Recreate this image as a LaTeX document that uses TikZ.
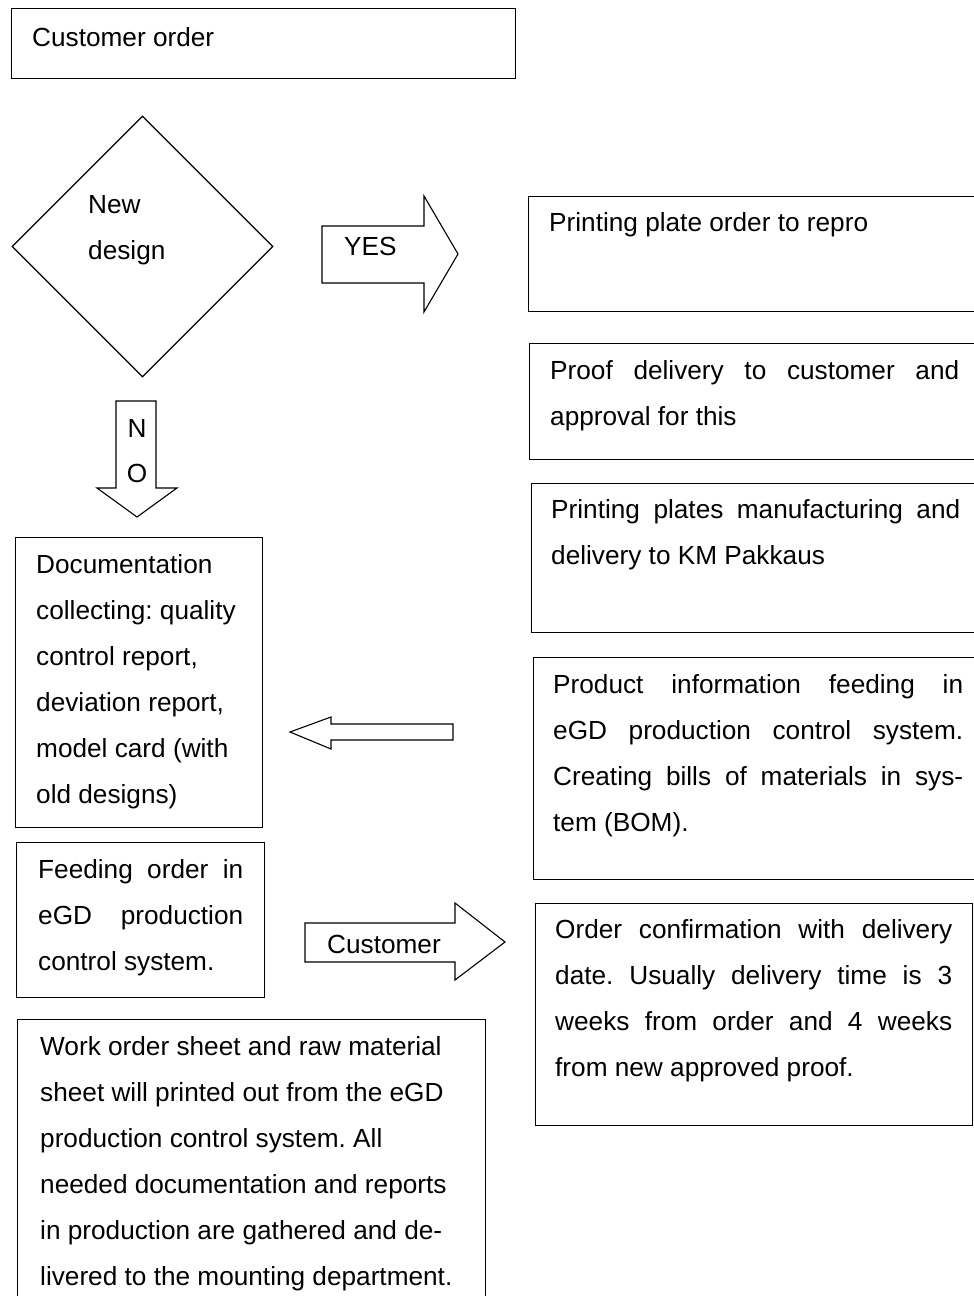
\documentclass[tikz,border=0pt]{standalone}
\usepackage{fontspec}
\setmainfont{Liberation Sans}
\usetikzlibrary{shapes.geometric}
\frenchspacing
\begin{document}
\begin{tikzpicture}[x=1pt,y=-1pt,
  every node/.style={font=\fontsize{26.2}{46}\selectfont},
  boxnode/.style={draw, line width=1.3pt, inner sep=0pt, anchor=north west},
  txt/.style={anchor=base west, inner sep=0pt},
  blockarrow/.style={draw, line width=1.1pt, line join=miter}]
\useasboundingbox (0,0) rectangle (974,1296);
\clip (0,0) rectangle (974,1296);

% left column
\node[boxnode, minimum width=504pt, minimum height=70pt] (order) at (11,8) {};
\node[txt] (ordertxt) at (32,46) {Customer order};

\node[diamond, draw, line width=1.3pt, aspect=1, inner sep=0pt,
      minimum width=261pt, minimum height=261pt] (newdesign) at (142.5,246.5) {};
\node[txt] (newdesigntxt) at (88,213) {\parbox[t]{120pt}{New\\design}};

\node[boxnode, minimum width=247pt, minimum height=290pt] (docs) at (15,537) {};
\node[txt] (docstxt) at (36,573) {\parbox[t]{220pt}{Documentation\\
collecting: quality\\control report,\\deviation report,\\model card (with\\old designs)}};

\node[boxnode, minimum width=248pt, minimum height=155pt] (feed) at (16,842) {};
\node[txt] (feedtxt) at (38,878) {\parbox[t]{206pt}{\makebox[205pt][s]{Feeding order in}\\
\makebox[205pt][s]{eGD production}\\control system.}};

\node[boxnode, minimum width=468pt, minimum height=320pt] (work) at (17,1019) {};
\node[txt] (worktxt) at (40,1055) {\parbox[t]{440pt}{Work order sheet and raw material\\
sheet will printed out from the eGD\\production control system. All\\
needed documentation and reports\\in production are gathered and de-\\
livered to the mounting department.}};

% right column
\node[boxnode, minimum width=480pt, minimum height=115pt] (plateorder) at (528,196) {};
\node[txt] (plateordertxt) at (549,231) {Printing plate order to repro};

\node[boxnode, minimum width=480pt, minimum height=116pt] (proof) at (529,343) {};
\node[txt] (prooftxt) at (550,379) {\parbox[t]{410pt}{\makebox[409pt][s]{Proof delivery to customer and}\\
approval for this}};

\node[boxnode, minimum width=480pt, minimum height=149pt] (plates) at (531,483) {};
\node[txt] (platestxt) at (551,518) {\parbox[t]{410pt}{\makebox[409pt][s]{Printing plates manufacturing and}\\
delivery to KM Pakkaus}};

\node[boxnode, minimum width=480pt, minimum height=222pt] (product) at (533,657) {};
\node[txt] (producttxt) at (553,693) {\parbox[t]{411pt}{\makebox[410pt][s]{Product information feeding in}\\
\makebox[410pt][s]{eGD production control system.}\\
\makebox[410pt][s]{Creating bills of materials in sys-}\\tem (BOM).}};

\node[boxnode, minimum width=437pt, minimum height=222pt] (confirm) at (535,903) {};
\node[txt] (confirmtxt) at (555,938) {\parbox[t]{398pt}{\makebox[397pt][s]{Order confirmation with delivery}\\
\makebox[397pt][s]{date. Usually delivery time is 3}\\
\makebox[397pt][s]{weeks from order and 4 weeks}\\from new approved proof.}};

% block arrows with their labels
\draw[blockarrow] (322,226) -- (424,226) -- (424,196) -- (458,254) -- (424,312)
  -- (424,283) -- (322,283) -- cycle;
\node[txt] (yes) at (344,255) {YES};

\draw[blockarrow] (116,401) -- (156,401) -- (156,488) -- (177,488) -- (137,517)
  -- (97,488) -- (116,488) -- cycle;
\node[anchor=base, inner sep=0pt] (noN) at (137,437) {N};
\node[anchor=base, inner sep=0pt] (noO) at (137,482) {O};

\draw[blockarrow] (453,724) -- (331,724) -- (331,717) -- (290,732) -- (331,749)
  -- (331,740) -- (453,740) -- cycle;

\draw[blockarrow] (305,923) -- (455,923) -- (455,903) -- (505,942) -- (455,980)
  -- (455,962) -- (305,962) -- cycle;
\node[txt] (cust) at (327,953) {Customer};
\end{tikzpicture}
\end{document}
